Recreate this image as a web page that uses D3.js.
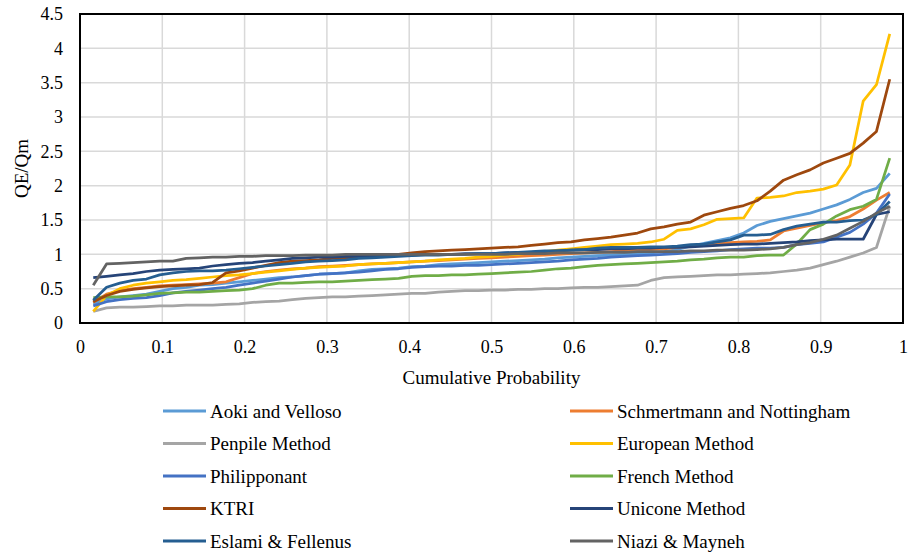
<!DOCTYPE html>
<html>
<head>
<meta charset="utf-8">
<script src="https://cdn.jsdelivr.net/npm/d3@7"></script>
<style>
  html, body { margin: 0; padding: 0; background: #fff; }
  svg { display: block; }
</style>
</head>
<body>
<svg id="chart" width="916" height="552"></svg>
<script>
// QE/Qm ratios, sorted ascending for each prediction method (61 piles)
const aoki = [0.28,0.35,0.38,0.40,0.42,0.46,0.50,0.52,0.55,0.56,
  0.58,0.60,0.62,0.64,0.66,0.67,0.69,0.71,0.72,0.73,
  0.76,0.78,0.79,0.80,0.82,0.83,0.85,0.86,0.87,0.88,
  0.89,0.90,0.91,0.92,0.93,0.95,0.96,0.97,0.98,0.99,
  1.00,1.01,1.02,1.04,1.07,1.12,1.16,1.20,1.24,1.31,
  1.42,1.48,1.52,1.56,1.60,1.66,1.72,1.80,1.90,1.96,2.18];
const schmertmann = [0.30,0.42,0.47,0.50,0.52,0.54,0.55,0.56,0.57,0.58,
  0.60,0.66,0.72,0.75,0.77,0.79,0.80,0.82,0.83,0.84,
  0.85,0.86,0.87,0.88,0.89,0.90,0.91,0.92,0.93,0.94,
  0.95,0.96,0.97,0.98,0.99,1.00,1.01,1.02,1.03,1.04,
  1.05,1.06,1.07,1.08,1.10,1.12,1.14,1.16,1.17,1.18,
  1.19,1.21,1.34,1.38,1.42,1.46,1.49,1.55,1.66,1.79,1.90];
const penpile = [0.17,0.22,0.23,0.23,0.24,0.25,0.25,0.26,0.26,0.26,
  0.27,0.28,0.30,0.31,0.32,0.34,0.36,0.37,0.38,0.38,
  0.39,0.40,0.41,0.42,0.43,0.43,0.45,0.46,0.47,0.47,
  0.48,0.48,0.49,0.49,0.50,0.50,0.51,0.52,0.52,0.53,
  0.54,0.55,0.62,0.66,0.67,0.68,0.69,0.70,0.70,0.71,
  0.72,0.73,0.75,0.77,0.80,0.85,0.90,0.96,1.02,1.10,1.70];
const european = [0.17,0.40,0.50,0.55,0.58,0.60,0.62,0.63,0.65,0.67,
  0.69,0.70,0.72,0.74,0.76,0.78,0.80,0.81,0.82,0.83,
  0.85,0.86,0.87,0.88,0.89,0.90,0.92,0.93,0.94,0.96,
  0.97,0.99,1.00,1.02,1.04,1.06,1.08,1.10,1.12,1.14,
  1.15,1.16,1.18,1.22,1.35,1.37,1.43,1.51,1.52,1.53,
  1.82,1.83,1.85,1.90,1.92,1.95,2.01,2.30,3.23,3.47,4.21];
const philipponant = [0.25,0.31,0.34,0.36,0.37,0.40,0.44,0.46,0.48,0.50,
  0.52,0.55,0.58,0.61,0.64,0.67,0.69,0.71,0.72,0.73,
  0.74,0.76,0.78,0.79,0.81,0.82,0.83,0.83,0.84,0.84,
  0.85,0.86,0.87,0.88,0.89,0.90,0.92,0.93,0.94,0.96,
  0.97,0.98,0.99,1.00,1.01,1.03,1.04,1.05,1.07,1.08,
  1.09,1.09,1.10,1.14,1.16,1.18,1.25,1.32,1.44,1.60,1.88];
const french = [0.37,0.38,0.38,0.39,0.41,0.43,0.44,0.45,0.45,0.46,
  0.47,0.48,0.50,0.55,0.58,0.58,0.59,0.60,0.60,0.61,
  0.62,0.63,0.64,0.65,0.68,0.69,0.69,0.70,0.70,0.71,
  0.72,0.73,0.74,0.75,0.77,0.79,0.80,0.82,0.84,0.85,
  0.86,0.87,0.88,0.89,0.90,0.92,0.93,0.95,0.96,0.96,
  0.98,0.99,0.99,1.15,1.36,1.44,1.56,1.65,1.70,1.80,2.40];
const ktri = [0.31,0.40,0.46,0.49,0.51,0.53,0.54,0.55,0.56,0.59,
  0.73,0.76,0.80,0.84,0.88,0.90,0.91,0.92,0.94,0.95,
  0.97,0.98,0.99,1.00,1.02,1.04,1.05,1.06,1.07,1.08,
  1.09,1.10,1.11,1.13,1.15,1.17,1.18,1.21,1.23,1.25,
  1.28,1.31,1.37,1.40,1.44,1.47,1.57,1.62,1.67,1.71,
  1.78,1.92,2.08,2.16,2.23,2.33,2.40,2.47,2.62,2.79,3.55];
const unicone = [0.66,0.68,0.70,0.72,0.75,0.77,0.78,0.79,0.80,0.83,
  0.85,0.87,0.88,0.90,0.92,0.94,0.95,0.96,0.96,0.97,
  0.97,0.98,0.98,0.99,0.99,1.00,1.00,1.00,1.01,1.01,
  1.01,1.02,1.03,1.03,1.04,1.05,1.06,1.07,1.07,1.08,
  1.08,1.09,1.09,1.10,1.10,1.11,1.12,1.13,1.14,1.15,
  1.15,1.16,1.17,1.18,1.20,1.21,1.22,1.22,1.22,1.58,1.62];
const eslami = [0.33,0.52,0.58,0.62,0.64,0.70,0.73,0.75,0.76,0.76,
  0.77,0.79,0.81,0.83,0.85,0.87,0.89,0.90,0.91,0.92,
  0.94,0.95,0.96,0.97,0.98,0.99,0.99,1.00,1.00,1.01,
  1.01,1.02,1.03,1.04,1.05,1.05,1.06,1.07,1.09,1.10,
  1.10,1.10,1.11,1.11,1.12,1.14,1.15,1.18,1.21,1.28,
  1.28,1.29,1.36,1.41,1.44,1.47,1.47,1.49,1.50,1.58,1.77];
const niazi = [0.55,0.86,0.87,0.88,0.89,0.90,0.90,0.94,0.95,0.96,
  0.96,0.97,0.97,0.98,0.98,0.98,0.99,0.99,0.99,1.00,
  1.00,1.00,1.00,1.00,1.00,1.00,1.00,1.00,1.00,1.00,
  1.00,1.00,1.01,1.01,1.01,1.02,1.02,1.02,1.03,1.03,
  1.03,1.04,1.04,1.04,1.04,1.05,1.05,1.06,1.06,1.06,
  1.07,1.08,1.10,1.14,1.17,1.22,1.28,1.38,1.48,1.60,1.70];

const seriesNames = ["Aoki and Velloso", "Schmertmann and Nottingham", "Penpile Method",
  "European Method", "Philipponant", "French Method", "KTRI", "Unicone Method",
  "Eslami & Fellenus", "Niazi & Mayneh"];
const seriesValues = [aoki, schmertmann, penpile, european, philipponant, french,
  ktri, unicone, eslami, niazi];
const seriesColors = ["#5B9BD5", "#ED7D31", "#A5A5A5", "#FFC000", "#4472C4",
  "#70AD47", "#9E480E", "#264478", "#255E91", "#636363"];

const xTicks = [0, 0.1, 0.2, 0.3, 0.4, 0.5, 0.6, 0.7, 0.8, 0.9, 1];
const yTicks = [0, 0.5, 1, 1.5, 2, 2.5, 3, 3.5, 4, 4.5];
const xTitle = "Cumulative Probability";
const yTitle = "QE/Qm";

// Cumulative probability of each ranked value: rank / (n + 1)
const n = aoki.length;
const probability = d3.range(1, n + 1).map(r => r / (n + 1));

const FONT = "Liberation Serif";

const svg = d3.select("#chart");
const plot = { left: 80, top: 14, width: 823, height: 309 };

const x = d3.scaleLinear().domain([0, 1]).range([plot.left, plot.left + plot.width]);
const y = d3.scaleLinear().domain([0, 4.5]).range([plot.top + plot.height, plot.top]);

svg.append("rect").attr("width", 916).attr("height", 552).attr("fill", "#fff");

// grid
const grid = svg.append("g").attr("stroke", "#d9d9d9").attr("stroke-width", 1.5);
grid.selectAll("line.v").data(xTicks.slice(1, -1)).join("line")
  .attr("x1", d => x(d)).attr("x2", d => x(d))
  .attr("y1", plot.top).attr("y2", plot.top + plot.height);
grid.selectAll("line.h").data(yTicks.slice(1, -1)).join("line")
  .attr("x1", plot.left).attr("x2", plot.left + plot.width)
  .attr("y1", d => y(d)).attr("y2", d => y(d));

// axes
const fmt = d3.format("~g");
const gx = svg.append("g")
  .attr("transform", `translate(0,${plot.top + plot.height})`)
  .call(d3.axisBottom(x).tickValues(xTicks).tickFormat(fmt).tickSize(0).tickPadding(17));
const gy = svg.append("g")
  .attr("transform", `translate(${plot.left},0)`)
  .call(d3.axisLeft(y).tickValues(yTicks).tickFormat(fmt).tickSize(0).tickPadding(17));
[gx, gy].forEach(g => {
  g.attr("font-family", FONT).attr("font-size", 18);
  g.select(".domain").remove();
  g.selectAll("text").attr("fill", "#000");
});

// series lines
const line = d3.line().x((d, i) => x(probability[i])).y(d => y(d));
svg.append("g").selectAll("path").data(seriesValues).join("path")
  .attr("d", d => line(d))
  .attr("fill", "none")
  .attr("stroke", (d, i) => seriesColors[i])
  .attr("stroke-width", 2.75)
  .attr("stroke-linejoin", "round");

// plot frame
svg.append("rect")
  .attr("x", plot.left).attr("y", plot.top)
  .attr("width", plot.width).attr("height", plot.height)
  .attr("fill", "none").attr("stroke", "#000").attr("stroke-width", 2);

// axis titles
svg.append("text")
  .attr("x", x(0.5)).attr("y", 384)
  .attr("text-anchor", "middle").attr("font-size", 19)
  .attr("font-family", FONT)
  .text(xTitle);
svg.append("text")
  .attr("transform", `translate(28,${y(2.25)}) rotate(-90)`)
  .attr("text-anchor", "middle").attr("font-size", 19)
  .attr("font-family", FONT)
  .text(yTitle);

// legend: two columns, filled row by row
const legendCols = [163, 570];
const legendRow0 = 411, legendRowStep = 32.5;
const legend = svg.append("g").selectAll("g").data(seriesNames).join("g")
  .attr("transform", (d, i) =>
    `translate(${legendCols[i % 2]},${legendRow0 + Math.floor(i / 2) * legendRowStep})`);
legend.append("line")
  .attr("x1", 0).attr("x2", 43).attr("y1", 0).attr("y2", 0)
  .attr("stroke", (d, i) => seriesColors[i]).attr("stroke-width", 3);
legend.append("text")
  .attr("x", 47).attr("y", 0).attr("dy", "0.35em")
  .attr("font-size", 19)
  .attr("font-family", FONT)
  .text(d => d);
</script>
</body>
</html>
